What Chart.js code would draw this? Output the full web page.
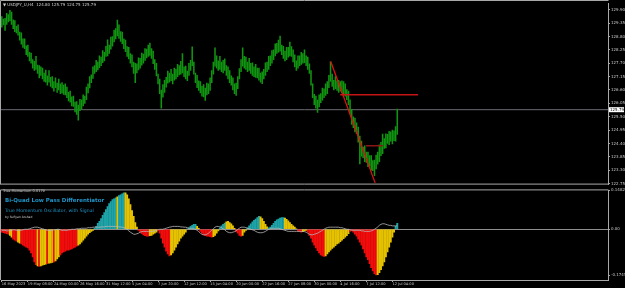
<!DOCTYPE html>
<html>
<head>
<meta charset="utf-8">
<script src="https://cdn.jsdelivr.net/npm/chart.js@4.4.0/dist/chart.umd.min.js"></script>
<style>
    html, body { margin: 0; padding: 0; background: #000; overflow: hidden; }
    #wrap { position: relative; width: 625px; height: 288px; }
    canvas { position: absolute; left: 0; }
    #priceChart { top: 0; }
    #momChart { top: 187px; }
</style>
</head>
<body>
<div id="wrap">
    <canvas id="priceChart" width="625" height="188"></canvas>
    <canvas id="momChart" width="625" height="101"></canvas>
</div>
<script>
(function () {
    "use strict";

    // H4 bars, oldest first
    const barHigh = [
        129.62,129.52,129.55,129.75,129.70,129.88,129.80,129.48,129.45,129.22,
        129.28,128.98,128.95,128.70,128.70,128.42,128.45,128.15,128.12,127.85,
        127.78,127.98,127.62,127.60,127.55,127.50,127.30,127.42,127.18,127.40,
        127.12,127.15,126.95,127.10,126.88,127.05,126.85,126.90,126.80,126.85,
        126.72,126.50,126.55,126.32,126.35,126.10,126.12,125.98,126.22,126.20,
        126.40,126.35,126.72,126.85,127.15,127.22,127.55,127.60,127.82,127.75,
        128.00,127.95,128.22,128.15,128.40,128.66,128.45,128.78,128.80,129.05,
        129.12,129.47,129.28,129.00,128.98,128.70,128.65,128.38,128.35,128.10,
        128.05,127.75,127.70,127.68,127.92,127.90,128.12,128.08,128.30,128.28,
        128.45,128.53,128.30,128.20,127.85,127.70,127.25,127.05,126.60,126.82,
        127.00,127.12,127.38,127.30,127.45,127.25,127.50,127.45,127.65,127.60,
        127.78,128.10,127.55,127.58,127.38,127.70,127.82,128.37,127.75,127.30,
        127.20,126.98,126.95,126.75,126.82,126.68,126.88,126.85,127.10,127.40,
        127.75,128.33,128.00,127.80,127.98,127.75,127.82,127.88,127.60,127.55,
        127.40,127.18,127.10,126.85,126.88,127.15,127.48,127.85,128.33,127.98,
        127.95,127.75,127.90,127.70,127.72,127.55,127.65,127.50,127.50,127.30,
        127.35,127.45,127.72,127.75,127.98,128.00,128.22,128.25,128.50,128.52,
        128.65,128.82,128.45,128.40,128.20,128.35,128.35,128.57,128.38,128.25,
        128.05,127.80,128.00,128.00,128.15,128.10,128.25,128.00,127.95,127.68,
        127.40,126.85,126.42,126.35,126.18,126.40,126.45,126.68,126.65,126.85,
        126.95,127.20,127.76,127.25,127.00,127.15,126.98,127.00,126.95,126.98,
        126.95,126.85,126.62,126.55,126.20,125.80,125.50,125.45,125.25,125.08,
        124.70,124.50,124.25,124.30,124.05,124.05,123.90,123.90,123.70,123.72,
        123.92,124.05,124.35,124.45,124.79,124.60,124.80,124.78,124.90,124.88,
        124.95,124.92,125.10,125.81
    ];
    const barLow = [
        129.18,129.28,129.05,129.30,129.40,129.45,129.30,129.12,129.00,128.95,
        128.85,128.65,128.48,128.35,128.30,128.05,127.98,127.80,127.70,127.50,
        127.40,127.45,127.28,127.10,127.20,127.05,126.95,126.92,126.80,126.92,
        126.75,126.68,126.55,126.70,126.50,126.60,126.45,126.48,126.42,126.40,
        126.28,126.15,126.10,125.95,125.92,125.70,125.60,125.36,125.75,125.82,
        125.95,126.05,126.20,126.48,126.68,126.90,127.08,127.28,127.35,127.42,
        127.52,127.60,127.72,127.80,127.98,128.00,128.10,128.28,128.40,128.58,
        128.70,128.82,128.72,128.60,128.50,128.30,128.18,127.98,127.88,127.70,
        127.55,127.28,126.90,127.30,127.42,127.50,127.62,127.70,127.82,127.92,
        127.98,128.02,127.90,127.68,127.45,127.18,126.85,126.45,125.85,126.30,
        126.50,126.72,126.88,126.92,126.98,126.85,127.00,127.05,127.15,127.22,
        127.25,127.30,127.15,127.05,126.98,127.20,127.40,127.60,127.25,126.90,
        126.70,126.58,126.48,126.35,126.32,126.17,126.40,126.45,126.58,126.90,
        127.25,127.58,127.50,127.40,127.45,127.35,127.30,127.40,127.20,127.05,
        126.90,126.80,126.60,126.45,126.38,126.65,127.05,127.35,127.58,127.50,
        127.45,127.35,127.40,127.28,127.20,127.15,127.12,127.10,127.00,126.92,
        126.86,127.05,127.20,127.35,127.45,127.60,127.70,127.85,128.00,128.10,
        128.15,128.20,128.05,127.90,127.80,127.85,127.95,128.00,127.98,127.75,
        127.55,127.40,127.50,127.60,127.65,127.70,127.72,127.60,127.45,127.28,
        126.80,126.28,126.00,125.85,125.68,125.90,126.08,126.18,126.28,126.38,
        126.45,126.70,126.95,126.75,126.60,126.65,126.58,126.50,126.55,126.48,
        126.45,126.35,126.20,126.00,125.62,125.18,125.05,124.88,124.80,124.45,
        123.56,123.88,123.82,123.65,123.62,123.45,123.48,123.30,123.28,123.08,
        123.35,123.55,123.65,123.90,123.98,124.20,124.22,124.40,124.35,124.50,
        124.38,124.52,124.50,124.77
    ];
    const lastPrice = 125.79;
    const headerText = "\u25BC USDJPY_U,H4  124.80 125.79 124.75 125.79";
    const priceTicks = [129.90, 129.35, 128.80, 128.25, 127.70, 127.15, 126.60,
                        126.05, 125.50, 124.95, 124.40, 123.85, 123.30, 122.75];

    // objects drawn on the chart (bar index, price)
    const trendX = [202.1, 229.4], trendY = [127.77, 122.78];
    const levelX = [207.9, 255.8], levelY = [126.40, 126.40];
    const rangeX = [223.7, 234.1], rangeY = [124.31, 124.31];

    // True Momentum histogram + signal
    const momValue = [
        -0.011,-0.013,-0.015,-0.017,-0.019,-0.023,-0.030,-0.038,-0.041,-0.045,
        -0.049,-0.053,-0.056,-0.060,-0.064,-0.068,-0.071,-0.079,-0.090,-0.105,
        -0.124,-0.135,-0.139,-0.141,-0.139,-0.137,-0.135,-0.133,-0.131,-0.129,
        -0.128,-0.126,-0.124,-0.120,-0.113,-0.105,-0.098,-0.090,-0.086,-0.083,
        -0.079,-0.079,-0.077,-0.075,-0.071,-0.068,-0.064,-0.060,-0.056,-0.049,
        -0.041,-0.034,-0.026,-0.019,-0.013,-0.008,-0.004,0.004,0.011,0.023,
        0.030,0.041,0.053,0.064,0.075,0.086,0.098,0.105,0.113,0.116,
        0.120,0.124,0.128,0.131,0.135,0.139,0.139,0.131,0.116,0.094,
        0.071,0.049,0.026,0.008,-0.004,-0.011,-0.017,-0.021,-0.024,-0.026,
        -0.026,-0.024,-0.023,-0.019,-0.015,-0.011,-0.004,-0.015,-0.034,-0.053,
        -0.068,-0.083,-0.094,-0.101,-0.098,-0.090,-0.079,-0.068,-0.056,-0.045,
        -0.034,-0.026,-0.019,-0.011,0.002,0.006,0.011,0.015,0.019,0.019,
        0.011,0.004,-0.008,-0.015,-0.021,-0.024,-0.026,-0.026,-0.028,-0.030,
        -0.028,-0.023,-0.015,-0.006,0.006,0.013,0.019,0.024,0.028,0.030,
        0.026,0.021,0.013,0.004,-0.008,-0.015,-0.023,-0.026,-0.023,-0.011,
        -0.004,0.006,0.013,0.021,0.028,0.034,0.039,0.045,0.049,0.047,
        0.041,0.030,0.019,0.009,0.006,0.008,0.015,0.023,0.030,0.036,
        0.039,0.043,0.045,0.045,0.043,0.038,0.032,0.026,0.019,0.013,
        0.008,0.002,-0.006,-0.009,-0.011,-0.009,-0.006,-0.004,-0.011,-0.023,
        -0.034,-0.049,-0.060,-0.071,-0.081,-0.090,-0.098,-0.101,-0.103,-0.101,
        -0.094,-0.086,-0.079,-0.073,-0.068,-0.062,-0.056,-0.053,-0.047,-0.041,
        -0.036,-0.030,-0.024,-0.017,-0.008,-0.004,-0.011,-0.019,-0.026,-0.038,
        -0.049,-0.060,-0.075,-0.090,-0.105,-0.116,-0.131,-0.146,-0.158,-0.169,
        -0.174,-0.173,-0.165,-0.154,-0.139,-0.124,-0.105,-0.086,-0.068,-0.049,
        -0.030,-0.011,0.011,0.023
    ];
    const momSignal = [
        -0.004,-0.004,-0.004,-0.006,-0.006,-0.004,-0.004,-0.002,-0.002,-0.004,
        -0.004,-0.004,-0.004,-0.002,0,0,0,0.002,0.004,0.006,
        0.008,0.008,0.008,0.006,0.004,0.002,0,-0.002,-0.004,-0.004,
        -0.004,-0.004,-0.002,-0.002,0,0,-0.002,-0.004,-0.004,-0.004,
        -0.004,-0.002,-0.002,0,0,0,0.002,0.002,0.002,0.004,
        0.004,0.004,0.004,0.006,0.006,0.006,0.008,0.008,0.008,0.008,
        0.008,0.009,0.009,0.009,0.011,0.011,0.011,0.011,0.011,0.011,
        0.011,0.011,0.009,0.009,0.008,0.006,0.004,0,-0.006,-0.011,
        -0.015,-0.019,-0.019,-0.017,-0.015,-0.011,-0.009,-0.008,-0.008,-0.008,
        -0.008,-0.008,-0.008,-0.008,-0.006,-0.004,-0.002,0,0,0,
        0.002,0.004,0.006,0.008,0.009,0.011,0.011,0.011,0.011,0.011,
        0.009,0.009,0.008,0.008,0.006,0.004,0.004,0.004,0.002,0,
        -0.004,-0.009,-0.015,-0.019,-0.021,-0.021,-0.019,-0.015,-0.009,-0.004,
        0.002,0.008,0.011,0.011,0.009,0.006,0.002,-0.002,-0.008,-0.011,
        -0.013,-0.013,-0.011,-0.009,-0.006,0,0.004,0.008,0.008,0.008,
        0.006,0.004,0.002,0,-0.002,-0.004,-0.008,-0.011,-0.013,-0.013,
        -0.013,-0.011,-0.008,-0.004,0,0.002,0.004,0.004,0.004,0.004,
        0.004,0.002,0,-0.002,-0.004,-0.006,-0.008,-0.008,-0.008,-0.008,
        -0.008,-0.008,-0.008,-0.008,-0.008,-0.008,-0.009,-0.011,-0.015,-0.019,
        -0.021,-0.021,-0.019,-0.017,-0.015,-0.011,-0.008,-0.004,0,0.004,
        0.006,0.008,0.008,0.008,0.008,0.008,0.008,0.008,0.006,0.006,
        0.004,0.002,0,0,-0.002,-0.004,-0.004,-0.004,-0.004,-0.004,
        -0.004,-0.006,-0.006,-0.008,-0.008,-0.008,-0.008,-0.006,-0.004,0,
        0.004,0.009,0.015,0.019,0.021,0.021,0.019,0.017,0.015,0.015,
        0.013,0.013,0.013,0.013
    ];
    // which indicator buffer holds each bar: R falling, Y turning, T rising
    const momBufferRuns = [
        ['R',5],['Y',2],['R',3],['Y',2],['R',10],['Y',1],['R',1],['Y',4],['R',1],['Y',3],['R',1],['Y',3],
        ['R',11],['Y',10],['T',14],['Y',1],['T',4],['Y',8],['R',7],['Y',5],['R',8],['Y',10],
        ['T',6],['Y',2],['R',8],['Y',4],['T',4],['Y',6],['R',4],['Y',3],['T',8],['Y',5],
        ['T',10],['Y',8],['R',3],['Y',3],['R',11],['Y',15],['R',17],['Y',11],['T',2]
    ];
    const momTicks = [0.1482, 0, -0.1745];
    const momHeader = "True Momentum 0.0179";
    const momTitle = "Bi-Quad Low Pass Differentiator";
    const momSubtitle = "True Momentum Oscillator, with Signal";
    const momAuthor = "by Sufiyan Arshad";

    const timeTickIndex = [0, 16, 32, 48, 64, 80, 96, 112, 128, 144, 160, 176, 192, 208, 224, 240];
    const timeTickLabels = ["16 May 2023", "19 May 08:00", "24 May 00:00", "26 May 16:00",
        "31 May 12:00", "5 Jun 04:00", "7 Jun 20:00", "12 Jun 12:00", "15 Jun 04:00",
        "20 Jun 00:00", "22 Jun 16:00", "27 Jun 08:00", "30 Jun 00:00", "4 Jul 16:00",
        "7 Jul 12:00", "12 Jul 04:00"];

    const slots = 373; // bars that fit the window, incl. right shift
    const frameColor = '#a9a9a9';
    const textColor = '#c8c8c8';
    const fontFamily = 'DejaVu Sans';
    const bufferColor = { R: '#f20c0c', Y: '#e6c200', T: '#1ea3a8' };

    let momBuffer = [];
    momBufferRuns.forEach(function (run) {
        for (let k = 0; k < run[1]; k++) momBuffer.push(run[0]);
    });

    function pairs(xs, ys) {
        return xs.map(function (x, k) { return { x: x, y: ys[k] }; });
    }

    function xAxis(show) {
        return {
            type: 'linear', min: -0.5, max: slots - 0.5, offset: false, display: show,
            grid: { offset: false, drawOnChartArea: false, color: frameColor, tickLength: 2 },
            border: { color: frameColor }
        };
    }

    // frame + texts drawn on the canvas
    const priceDeco = {
        id: 'priceDeco',
        afterDraw: function (chart) {
            const ctx = chart.ctx, a = chart.chartArea;
            ctx.save();
            ctx.strokeStyle = frameColor;
            ctx.lineWidth = 1;
            ctx.beginPath();
            ctx.moveTo(0.5, a.bottom - 0.5);
            ctx.lineTo(0.5, 0.5);
            ctx.lineTo(a.right + 0.5, 0.5);
            ctx.moveTo(0, a.bottom - 0.5);
            ctx.lineTo(a.right + 0.5, a.bottom - 0.5);
            ctx.stroke();
            ctx.fillStyle = '#d0d0d0';
            ctx.font = '4px "' + fontFamily + '"';
            ctx.textBaseline = 'middle';
            ctx.fillText(headerText, 3, 5);
            const py = chart.scales.y.getPixelForValue(lastPrice);
            ctx.fillStyle = '#ffffff';
            ctx.fillRect(a.right + 1, py - 2.5, 15, 5);
            ctx.fillStyle = '#000000';
            ctx.fillText(lastPrice.toFixed(2), a.right + 2, py + 0.3);
            ctx.restore();
        }
    };

    const momDeco = {
        id: 'momDeco',
        afterDraw: function (chart) {
            const ctx = chart.ctx, a = chart.chartArea;
            ctx.save();
            ctx.strokeStyle = frameColor;
            ctx.lineWidth = 1;
            ctx.beginPath();
            ctx.moveTo(0.5, a.bottom);
            ctx.lineTo(0.5, a.top - 0.5);
            ctx.lineTo(a.right + 0.5, a.top - 0.5);
            ctx.stroke();
            ctx.textBaseline = 'middle';
            ctx.fillStyle = '#d0d0d0';
            ctx.font = '3.5px "' + fontFamily + '"';
            ctx.fillText(momHeader, 3, 4);
            ctx.fillStyle = '#1f93c6';
            ctx.font = 'bold 5.5px "' + fontFamily + '"';
            ctx.fillText(momTitle, 5, 13.7);
            ctx.font = '4.6px "' + fontFamily + '"';
            ctx.fillText(momSubtitle, 5, 23.7);
            ctx.fillStyle = '#d0d0d0';
            ctx.font = '3px "' + fontFamily + '"';
            ctx.fillText(momAuthor, 5, 30.7);
            ctx.restore();
        }
    };

    new Chart(document.getElementById('priceChart'), {
        type: 'bar',
        data: {
            datasets: [
                { type: 'line', data: pairs(trendX, trendY), borderColor: '#e01212', borderWidth: 1.3, pointRadius: 0, order: 0 },
                { type: 'line', data: pairs(levelX, levelY), borderColor: '#c41414', borderWidth: 1.5, pointRadius: 0, order: 0 },
                { type: 'line', data: pairs(rangeX, rangeY), borderColor: '#8c1616', borderWidth: 1.6, pointRadius: 0, order: 0 },
                { type: 'line', data: pairs([-0.5, slots - 0.5], [lastPrice, lastPrice]), borderColor: '#6a6a72', borderWidth: 1, pointRadius: 0, order: 3 },
                {
                    type: 'bar',
                    data: barHigh.map(function (h, i) { return { x: i, y: [barLow[i], h] }; }),
                    backgroundColor: '#119411', borderWidth: 0, barThickness: 0.9, order: 2
                }
            ]
        },
        options: {
            responsive: false, animation: false, devicePixelRatio: 1,
            layout: { padding: { left: 1, top: 3, right: 0, bottom: 2 } },
            plugins: { legend: { display: false }, tooltip: { enabled: false } },
            scales: {
                x: xAxis(false),
                y: {
                    position: 'right', min: 122.71, max: 130.16,
                    afterBuildTicks: function (s) { s.ticks = priceTicks.map(function (v) { return { value: v }; }); },
                    afterFit: function (s) { s.width = 17; },
                    ticks: { color: textColor, font: { size: 4, family: fontFamily }, padding: 1,
                             callback: function (v) { return v.toFixed(2); } },
                    grid: { drawOnChartArea: false, color: frameColor, tickLength: 2 },
                    border: { color: frameColor }
                }
            }
        },
        plugins: [priceDeco]
    });

    new Chart(document.getElementById('momChart'), {
        type: 'bar',
        data: {
            datasets: [
                { type: 'line', data: momSignal.map(function (v, i) { return { x: i, y: v }; }),
                  borderColor: '#b8b8b8', borderWidth: 0.8, pointRadius: 0, order: 0 },
                {
                    type: 'bar',
                    data: momValue.map(function (v, i) { return { x: i, y: v }; }),
                    backgroundColor: momBuffer.map(function (b) { return bufferColor[b]; }),
                    borderWidth: 0, barThickness: 1.3, order: 1
                }
            ]
        },
        options: {
            responsive: false, animation: false, devicePixelRatio: 1,
            layout: { padding: { left: 1, top: 2, right: 0, bottom: 0 } },
            plugins: { legend: { display: false }, tooltip: { enabled: false } },
            scales: {
                x: Object.assign(xAxis(true), {
                    afterBuildTicks: function (s) { s.ticks = timeTickIndex.map(function (v) { return { value: v }; }); },
                    afterFit: function (s) { s.height = 8; },
                    ticks: { color: textColor, font: { size: 3.6, family: fontFamily }, padding: 0,
                             maxRotation: 0, autoSkip: false, align: 'start',
                             callback: function (v, k) { return timeTickLabels[k]; } }
                }),
                y: {
                    position: 'right', min: -0.193, max: 0.148,
                    afterBuildTicks: function (s) { s.ticks = momTicks.map(function (v) { return { value: v }; }); },
                    afterFit: function (s) { s.width = 17; },
                    ticks: { color: textColor, font: { size: 4, family: fontFamily }, padding: 1,
                             callback: function (v) { return v === 0 ? '0.00' : v.toFixed(4); } },
                    grid: {
                        color: function (c) { return c.tick && c.tick.value === 0 ? '#8e8e8e' : 'rgba(0,0,0,0)'; },
                        tickColor: frameColor, tickLength: 2
                    },
                    border: { color: frameColor }
                }
            }
        },
        plugins: [momDeco]
    });
})();
</script>
</body>
</html>
